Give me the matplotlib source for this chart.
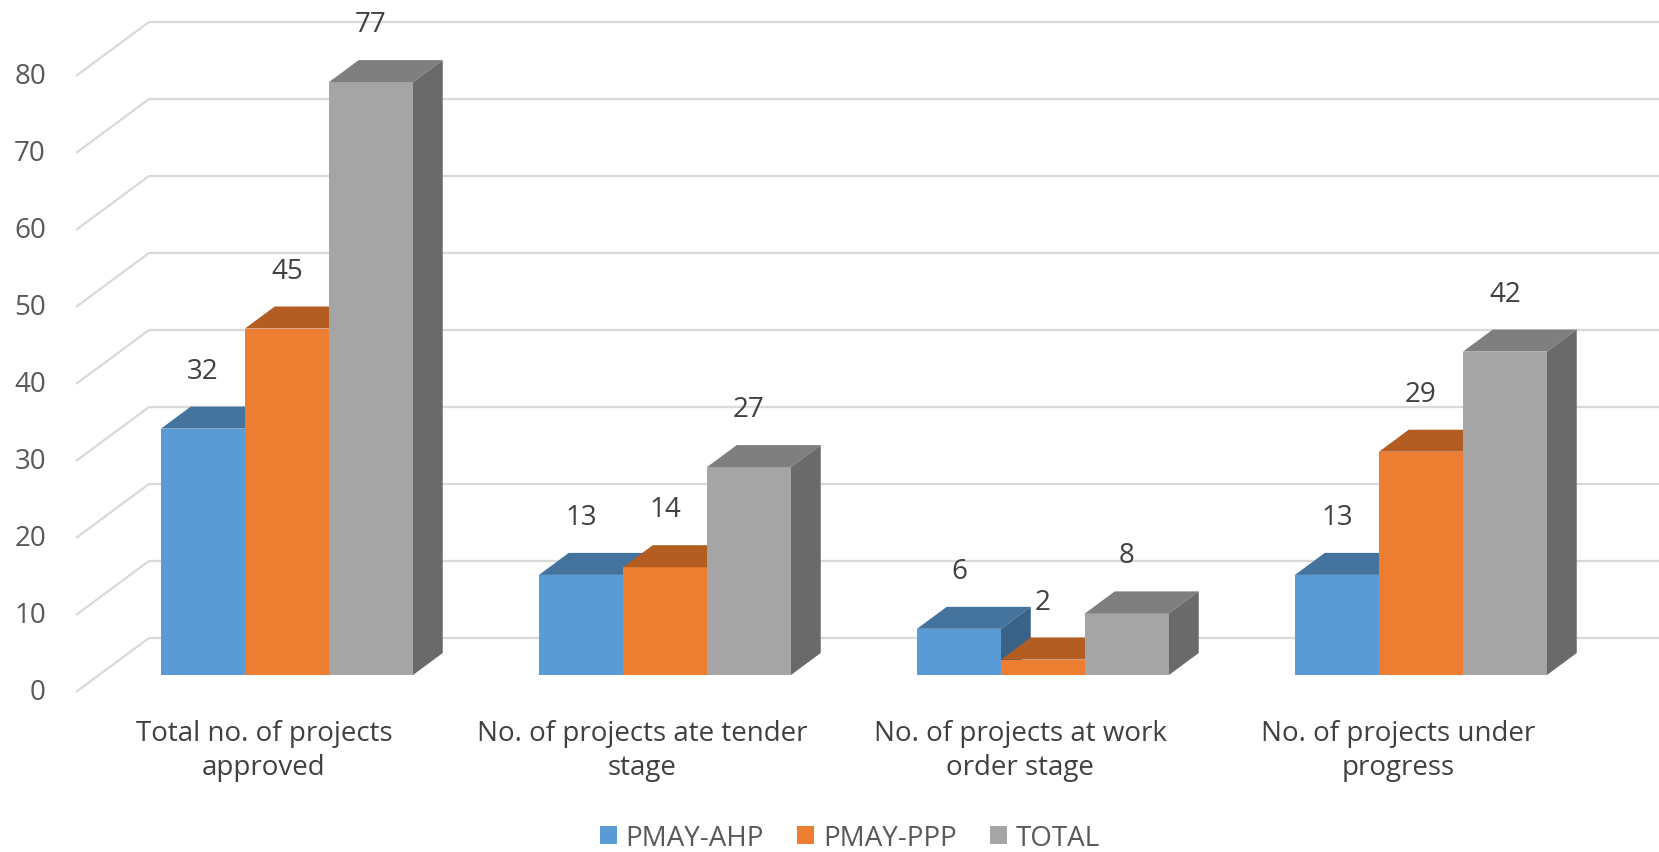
import matplotlib.pyplot as plt
from matplotlib.patches import Polygon, Patch

plt.rcParams['font.family'] = ['Open Sans', 'DejaVu Sans']

categories = [
    "Total no. of projects\napproved",
    "No. of projects ate tender\nstage",
    "No. of projects at work\norder stage",
    "No. of projects under\nprogress",
]
series = ["PMAY-AHP", "PMAY-PPP", "TOTAL"]
ahp = [32, 13, 6, 13]
ppp = [45, 14, 2, 29]
total = [77, 27, 8, 42]
yticks = [0, 10, 20, 30, 40, 50, 60, 70, 80]

# front, top, side shades
colors = [
    ("#5B9BD5", "#44739E", "#386288"),
    ("#ED7D31", "#B35D22", "#A0521E"),
    ("#A5A5A5", "#7F7F7F", "#6A6A6A"),
]

W, H = 1659, 853
PX_X = 378.0   # pixels per category
PX_Y = 7.7     # pixels per value unit
X0, Y0 = 287.0, 177.0  # pixel of first group centre / bar front base

# oblique depth of the whole wall, in data units
DX = 73 / PX_X
DY = 54 / PX_Y
F_FRONT = 17 / 54   # depth of bar front faces
F_BACK = 39 / 54    # depth of bar back faces
BAR_W = 84 / PX_X
FLOOR_LEFT = (76 - X0) / PX_X


def shift(f):
    return (f - F_FRONT) * DX, (f - F_FRONT) * DY


fig = plt.figure(figsize=(W / 100, H / 100), dpi=100)
ax = fig.add_axes([0, 0, 1, 1])
ax.set_xlim(-X0 / PX_X, (W - X0) / PX_X)
ax.set_ylim(-Y0 / PX_Y, (H - Y0) / PX_Y)
ax.axis("off")

grid_c = "#D9D9D9"
fx, fy = shift(0)
bx, by = shift(1)
xmax = (W - X0) / PX_X
for v in yticks:
    ax.plot([FLOOR_LEFT, FLOOR_LEFT + DX], [v + fy, v + by],
            color=grid_c, lw=1.6, zorder=1, solid_capstyle="butt")
    ax.plot([FLOOR_LEFT + DX, xmax], [v + by, v + by],
            color=grid_c, lw=1.6, zorder=1, solid_capstyle="butt")
    ax.text(FLOOR_LEFT - 30 / PX_X, v + fy, str(v), ha="right", va="center",
            fontsize=20, color="#595959")

sx, sy = shift(F_BACK)
for i in range(len(categories)):
    for j, vals in enumerate([ahp, ppp, total]):
        v = vals[i]
        x1 = i + (j - 1.5) * BAR_W
        x2 = x1 + BAR_W
        front_c, top_c, side_c = colors[j]
        z = 2 + i * 3 + j
        ax.add_patch(Polygon([(x1, 0), (x2, 0), (x2, v), (x1, v)],
                             closed=True, facecolor=front_c, edgecolor="none", zorder=z))
        ax.add_patch(Polygon([(x1, v), (x2, v), (x2 + sx, v + sy), (x1 + sx, v + sy)],
                             closed=True, facecolor=top_c, edgecolor="none", zorder=z))
        ax.add_patch(Polygon([(x2, 0), (x2 + sx, sy), (x2 + sx, v + sy), (x2, v)],
                             closed=True, facecolor=side_c, edgecolor="none", zorder=z))
        ax.text((x1 + x2) / 2, v + sy + 36 / PX_Y, str(v), ha="center", va="center",
                fontsize=20, color="#404040", zorder=30)
    ax.text(i + fx, -75 / PX_Y, categories[i], ha="center", va="center",
            fontsize=20, color="#404040", linespacing=1.28, multialignment="center")

handles = [Patch(facecolor=c[0], edgecolor="none") for c in colors]
fig.legend(handles, series, loc="center", bbox_to_anchor=(850 / W, 14 / H), ncol=3,
           frameon=False, fontsize=20, handlelength=0.6, handleheight=0.6,
           handletextpad=0.33, columnspacing=1.2, labelcolor="#595959")

fig.savefig("out.png", dpi=100)
